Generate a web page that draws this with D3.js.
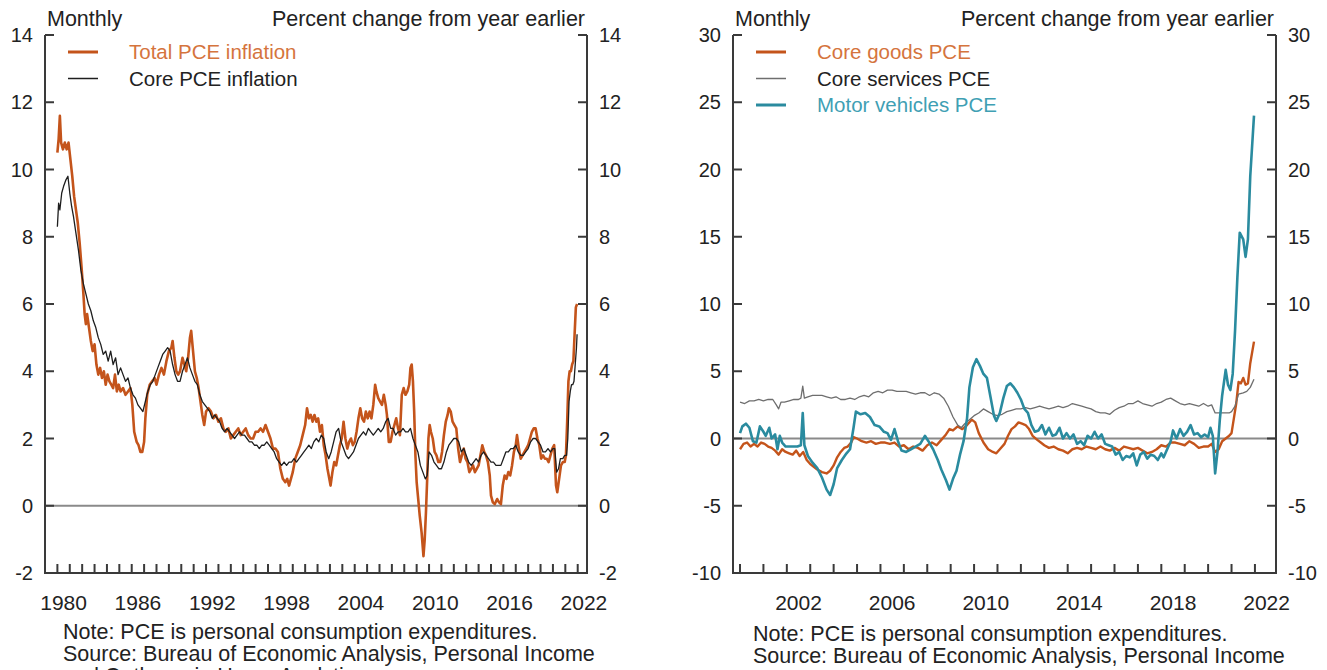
<!DOCTYPE html>
<html>
<head>
<meta charset="utf-8">
<script src="https://cdn.jsdelivr.net/npm/d3@7"></script>
<style>
  body { margin: 0; background: #fff; }
  svg { display: block; font-family: "Liberation Sans", Arial, sans-serif; }
</style>
</head>
<body>
<svg id="chart" width="1327" height="670"></svg>
<script>
// ---- data (year fraction, percent change from year earlier) ----
const totalPce = [[1980.0,10.5],[1980.1,10.9],[1980.2,11.6],[1980.3,10.8],[1980.45,10.6],[1980.6,10.8],[1980.75,10.6],[1980.9,10.8],[1981.05,10.3],[1981.2,9.8],[1981.35,9.2],[1981.5,8.8],[1981.65,8.4],[1981.8,7.8],[1981.95,7.1],[1982.1,6.3],[1982.2,5.7],[1982.3,5.4],[1982.4,5.7],[1982.55,5.3],[1982.7,4.9],[1982.85,4.6],[1983.0,4.8],[1983.15,4.2],[1983.3,3.9],[1983.45,4.1],[1983.6,3.8],[1983.75,4.0],[1983.9,3.6],[1984.05,3.9],[1984.2,3.7],[1984.35,3.6],[1984.5,3.5],[1984.65,3.9],[1984.8,3.4],[1984.95,3.6],[1985.1,3.4],[1985.3,3.5],[1985.5,3.3],[1985.7,3.4],[1985.9,3.5],[1986.05,3.0],[1986.2,2.2],[1986.4,1.9],[1986.55,1.8],[1986.7,1.6],[1986.85,1.6],[1987.0,1.9],[1987.1,2.6],[1987.25,3.3],[1987.45,3.6],[1987.65,3.7],[1987.85,3.8],[1988.0,3.6],[1988.2,3.9],[1988.4,4.1],[1988.6,3.9],[1988.8,4.3],[1989.0,4.6],[1989.2,4.7],[1989.3,4.9],[1989.45,4.4],[1989.6,4.0],[1989.75,3.9],[1989.9,4.0],[1990.1,4.4],[1990.25,4.2],[1990.4,4.0],[1990.55,4.4],[1990.7,5.0],[1990.8,5.2],[1990.95,4.6],[1991.1,4.0],[1991.25,3.8],[1991.4,3.5],[1991.55,3.1],[1991.7,2.7],[1991.85,2.4],[1992.0,2.8],[1992.2,2.9],[1992.4,2.8],[1992.6,2.6],[1992.8,2.7],[1993.0,2.5],[1993.2,2.6],[1993.4,2.3],[1993.6,2.2],[1993.8,2.3],[1994.0,2.0],[1994.2,2.1],[1994.4,2.2],[1994.6,2.3],[1994.8,2.1],[1995.0,2.2],[1995.2,2.3],[1995.4,2.1],[1995.6,2.0],[1995.8,2.0],[1996.0,2.2],[1996.2,2.2],[1996.4,2.3],[1996.6,2.2],[1996.8,2.4],[1997.0,2.2],[1997.2,2.0],[1997.4,1.7],[1997.6,1.7],[1997.8,1.6],[1998.0,1.1],[1998.2,0.8],[1998.4,0.7],[1998.55,0.8],[1998.7,0.6],[1998.85,0.8],[1999.0,1.0],[1999.2,1.4],[1999.4,1.6],[1999.6,1.8],[1999.8,2.1],[2000.0,2.4],[2000.15,2.9],[2000.3,2.6],[2000.45,2.7],[2000.6,2.5],[2000.75,2.7],[2000.9,2.5],[2001.05,2.6],[2001.2,2.2],[2001.35,2.4],[2001.5,1.8],[2001.65,1.5],[2001.8,1.1],[2001.95,0.8],[2002.05,0.6],[2002.2,1.0],[2002.35,1.3],[2002.5,1.2],[2002.65,1.5],[2002.8,1.8],[2002.95,2.0],[2003.1,2.5],[2003.25,2.0],[2003.4,1.7],[2003.55,1.9],[2003.7,2.0],[2003.85,1.8],[2004.0,1.9],[2004.15,2.2],[2004.3,2.6],[2004.45,2.9],[2004.6,2.6],[2004.75,2.5],[2004.9,2.8],[2005.05,2.6],[2005.2,2.8],[2005.35,2.6],[2005.5,3.0],[2005.65,3.6],[2005.75,3.4],[2005.9,3.2],[2006.05,3.1],[2006.2,3.0],[2006.35,3.3],[2006.5,3.0],[2006.6,2.7],[2006.75,1.9],[2006.9,1.9],[2007.05,2.2],[2007.2,2.4],[2007.35,2.6],[2007.5,2.3],[2007.65,2.1],[2007.8,3.3],[2007.95,3.5],[2008.1,3.3],[2008.25,3.4],[2008.4,3.6],[2008.5,4.1],[2008.6,4.2],[2008.7,3.7],[2008.8,2.8],[2008.9,1.5],[2009.0,0.7],[2009.1,0.3],[2009.25,-0.3],[2009.4,-0.8],[2009.55,-1.5],[2009.65,-1.0],[2009.75,-0.2],[2009.85,0.8],[2009.95,2.0],[2010.05,2.4],[2010.15,2.2],[2010.3,2.0],[2010.45,1.6],[2010.6,1.5],[2010.75,1.3],[2010.9,1.3],[2011.05,1.6],[2011.2,2.1],[2011.35,2.5],[2011.5,2.7],[2011.6,2.9],[2011.75,2.8],[2011.9,2.5],[2012.05,2.4],[2012.2,2.3],[2012.35,1.7],[2012.5,1.3],[2012.65,1.5],[2012.8,1.7],[2012.95,1.4],[2013.1,1.3],[2013.25,1.0],[2013.4,1.1],[2013.55,1.2],[2013.7,1.0],[2013.85,1.1],[2014.0,1.2],[2014.15,1.5],[2014.3,1.8],[2014.45,1.6],[2014.6,1.5],[2014.75,1.3],[2014.9,0.9],[2015.0,0.3],[2015.15,0.1],[2015.3,0.05],[2015.5,0.2],[2015.65,0.1],[2015.8,0.05],[2015.95,0.6],[2016.1,0.9],[2016.25,0.8],[2016.4,1.0],[2016.55,0.9],[2016.7,1.2],[2016.85,1.6],[2017.0,1.8],[2017.1,2.1],[2017.25,1.7],[2017.4,1.4],[2017.55,1.5],[2017.7,1.6],[2017.85,1.7],[2018.0,1.8],[2018.15,2.0],[2018.3,2.2],[2018.45,2.3],[2018.6,2.3],[2018.75,2.0],[2018.9,1.8],[2019.05,1.4],[2019.2,1.5],[2019.35,1.4],[2019.5,1.4],[2019.65,1.3],[2019.8,1.5],[2019.95,1.7],[2020.1,1.8],[2020.25,0.6],[2020.35,0.4],[2020.5,0.8],[2020.65,1.2],[2020.8,1.3],[2020.95,1.3],[2021.05,1.5],[2021.15,2.5],[2021.25,3.7],[2021.35,4.0],[2021.45,4.0],[2021.55,4.2],[2021.65,4.3],[2021.75,5.1],[2021.85,5.9],[2021.95,6.0]]

const corePce = [[1980.0,8.3],[1980.1,9.0],[1980.2,8.8],[1980.35,9.3],[1980.5,9.5],[1980.7,9.7],[1980.85,9.8],[1981.0,9.3],[1981.15,8.9],[1981.3,8.6],[1981.5,8.1],[1981.7,7.6],[1981.9,7.0],[1982.1,6.6],[1982.3,6.3],[1982.5,6.0],[1982.7,5.8],[1982.9,5.5],[1983.1,5.3],[1983.3,5.0],[1983.5,4.8],[1983.7,4.5],[1983.9,4.6],[1984.1,4.3],[1984.3,4.6],[1984.5,4.2],[1984.7,4.4],[1984.9,3.9],[1985.1,4.1],[1985.3,3.9],[1985.5,3.7],[1985.7,3.8],[1985.9,3.5],[1986.1,3.3],[1986.3,3.2],[1986.5,3.0],[1986.7,2.9],[1986.9,2.8],[1987.1,3.1],[1987.3,3.4],[1987.5,3.6],[1987.7,3.7],[1987.9,3.9],[1988.1,4.1],[1988.3,4.3],[1988.5,4.5],[1988.7,4.6],[1988.9,4.7],[1989.1,4.6],[1989.3,4.2],[1989.5,3.9],[1989.7,3.7],[1989.9,3.7],[1990.1,4.0],[1990.3,4.2],[1990.5,4.4],[1990.7,4.1],[1990.9,3.9],[1991.1,3.7],[1991.3,3.6],[1991.5,3.3],[1991.7,3.1],[1991.9,3.0],[1992.1,2.9],[1992.3,2.8],[1992.5,2.6],[1992.7,2.7],[1992.9,2.6],[1993.1,2.5],[1993.3,2.3],[1993.5,2.2],[1993.7,2.3],[1993.9,2.2],[1994.1,2.1],[1994.3,2.0],[1994.5,2.1],[1994.7,2.2],[1994.9,2.1],[1995.1,2.1],[1995.3,2.0],[1995.5,1.9],[1995.7,1.9],[1995.9,1.8],[1996.1,1.8],[1996.3,1.7],[1996.5,1.8],[1996.7,1.8],[1996.9,1.9],[1997.1,1.8],[1997.3,1.7],[1997.5,1.6],[1997.7,1.4],[1997.9,1.3],[1998.1,1.2],[1998.3,1.3],[1998.5,1.2],[1998.7,1.3],[1998.9,1.3],[1999.1,1.4],[1999.3,1.3],[1999.5,1.4],[1999.7,1.5],[1999.9,1.6],[2000.1,1.7],[2000.3,1.8],[2000.5,1.7],[2000.7,1.9],[2000.9,2.0],[2001.1,1.9],[2001.3,2.1],[2001.5,2.0],[2001.7,1.6],[2001.9,1.4],[2002.1,1.6],[2002.3,1.9],[2002.5,2.2],[2002.7,2.3],[2002.9,1.9],[2003.1,1.7],[2003.3,1.5],[2003.5,1.4],[2003.7,1.5],[2003.9,1.6],[2004.1,1.8],[2004.3,2.0],[2004.5,2.1],[2004.7,2.2],[2004.9,2.1],[2005.1,2.3],[2005.3,2.2],[2005.5,2.1],[2005.7,2.2],[2005.9,2.3],[2006.1,2.2],[2006.3,2.3],[2006.5,2.5],[2006.7,2.6],[2006.9,2.3],[2007.1,2.3],[2007.3,2.1],[2007.5,2.2],[2007.7,2.2],[2007.9,2.3],[2008.1,2.2],[2008.3,2.2],[2008.5,2.3],[2008.7,2.0],[2008.9,1.8],[2009.1,1.6],[2009.3,1.2],[2009.5,1.0],[2009.7,0.8],[2009.85,0.9],[2010.0,1.6],[2010.2,1.5],[2010.4,1.3],[2010.6,1.2],[2010.8,1.1],[2011.0,1.1],[2011.2,1.3],[2011.4,1.6],[2011.6,1.8],[2011.8,1.9],[2012.0,2.0],[2012.2,2.0],[2012.4,1.9],[2012.6,1.6],[2012.8,1.7],[2013.0,1.5],[2013.2,1.3],[2013.4,1.2],[2013.6,1.3],[2013.8,1.4],[2014.0,1.3],[2014.2,1.5],[2014.4,1.6],[2014.6,1.5],[2014.8,1.4],[2015.0,1.3],[2015.2,1.3],[2015.4,1.2],[2015.6,1.2],[2015.8,1.2],[2016.0,1.4],[2016.2,1.6],[2016.4,1.6],[2016.6,1.7],[2016.8,1.7],[2017.0,1.8],[2017.2,1.6],[2017.4,1.5],[2017.6,1.5],[2017.8,1.6],[2018.0,1.7],[2018.2,1.9],[2018.4,2.0],[2018.6,2.0],[2018.8,1.9],[2019.0,1.8],[2019.2,1.6],[2019.4,1.6],[2019.6,1.7],[2019.8,1.6],[2020.0,1.7],[2020.15,1.7],[2020.3,1.0],[2020.45,1.1],[2020.6,1.4],[2020.8,1.4],[2020.95,1.5],[2021.1,1.5],[2021.2,2.0],[2021.3,3.1],[2021.4,3.4],[2021.5,3.6],[2021.6,3.6],[2021.7,3.7],[2021.8,4.2],[2021.9,4.7],[2021.95,5.1]]

const coreGoods = [[2000.0,-0.8],[2000.15,-0.4],[2000.3,-0.3],[2000.45,-0.6],[2000.6,-0.4],[2000.75,-0.6],[2000.9,-0.3],[2001.05,-0.4],[2001.2,-0.6],[2001.35,-0.7],[2001.5,-0.9],[2001.65,-1.2],[2001.8,-0.8],[2001.95,-1.0],[2002.1,-1.1],[2002.25,-1.2],[2002.4,-0.9],[2002.55,-1.3],[2002.7,-1.0],[2002.85,-1.6],[2003.0,-1.9],[2003.15,-2.1],[2003.3,-2.3],[2003.5,-2.5],[2003.7,-2.6],[2003.85,-2.4],[2004.0,-2.0],[2004.15,-1.4],[2004.3,-1.0],[2004.45,-0.7],[2004.6,-0.6],[2004.75,-0.3],[2004.85,0.1],[2005.0,0.0],[2005.2,-0.2],[2005.4,-0.3],[2005.6,-0.2],[2005.8,-0.4],[2006.0,-0.3],[2006.2,-0.3],[2006.4,-0.4],[2006.6,-0.3],[2006.8,-0.6],[2007.0,-0.5],[2007.2,-0.8],[2007.4,-0.6],[2007.6,-0.7],[2007.8,-0.9],[2008.0,-0.5],[2008.2,-0.3],[2008.4,-0.5],[2008.6,-0.1],[2008.8,0.3],[2008.95,0.7],[2009.1,0.6],[2009.3,0.9],[2009.5,0.7],[2009.7,1.0],[2009.9,1.4],[2010.05,1.2],[2010.2,0.4],[2010.4,-0.3],[2010.6,-0.8],[2010.8,-1.0],[2010.95,-1.1],[2011.1,-0.8],[2011.3,-0.4],[2011.45,0.2],[2011.6,0.7],[2011.75,0.9],[2011.9,1.2],[2012.05,1.1],[2012.2,1.0],[2012.35,0.7],[2012.5,0.2],[2012.7,-0.1],[2012.85,-0.3],[2013.0,-0.5],[2013.2,-0.7],[2013.4,-0.6],[2013.6,-0.8],[2013.8,-0.9],[2014.0,-1.1],[2014.2,-0.8],[2014.4,-0.7],[2014.6,-0.8],[2014.8,-0.6],[2015.0,-0.7],[2015.2,-0.8],[2015.4,-0.6],[2015.6,-0.8],[2015.8,-0.9],[2016.0,-0.7],[2016.2,-0.9],[2016.4,-0.6],[2016.6,-0.7],[2016.8,-0.8],[2017.0,-0.7],[2017.2,-0.9],[2017.4,-1.1],[2017.6,-1.0],[2017.8,-0.8],[2018.0,-0.5],[2018.2,-0.6],[2018.4,-0.3],[2018.6,-0.3],[2018.8,-0.4],[2019.0,-0.5],[2019.2,-0.2],[2019.4,-0.4],[2019.6,-0.7],[2019.8,-0.6],[2020.0,-0.6],[2020.15,-0.4],[2020.3,-1.0],[2020.45,-0.8],[2020.6,-0.2],[2020.75,0.0],[2020.9,0.2],[2021.0,0.4],[2021.1,1.5],[2021.2,2.6],[2021.3,4.2],[2021.4,4.1],[2021.5,4.5],[2021.6,4.0],[2021.7,4.1],[2021.8,5.6],[2021.96,7.2]]

const coreServices = [[2000.0,2.7],[2000.2,2.6],[2000.4,2.8],[2000.6,2.8],[2000.8,2.9],[2001.0,2.8],[2001.2,2.9],[2001.4,2.9],[2001.55,2.5],[2001.65,2.2],[2001.75,2.7],[2001.9,2.7],[2002.1,2.8],[2002.3,2.9],[2002.5,2.9],[2002.6,3.0],[2002.68,3.9],[2002.75,3.0],[2002.9,3.1],[2003.1,3.2],[2003.3,3.2],[2003.5,3.2],[2003.7,3.1],[2003.9,3.0],[2004.1,3.1],[2004.3,2.9],[2004.5,2.9],[2004.7,3.0],[2004.9,2.9],[2005.1,3.1],[2005.3,3.2],[2005.5,3.1],[2005.7,3.4],[2005.9,3.5],[2006.1,3.4],[2006.3,3.6],[2006.5,3.6],[2006.7,3.5],[2006.9,3.5],[2007.1,3.5],[2007.3,3.4],[2007.5,3.3],[2007.7,3.4],[2007.9,3.4],[2008.1,3.2],[2008.3,3.4],[2008.5,3.3],[2008.7,3.0],[2008.9,2.4],[2009.1,1.6],[2009.3,1.0],[2009.45,0.8],[2009.6,1.1],[2009.8,1.4],[2010.0,1.7],[2010.2,1.9],[2010.4,2.2],[2010.6,2.0],[2010.8,1.8],[2011.0,1.7],[2011.2,1.8],[2011.4,2.0],[2011.6,2.1],[2011.8,2.2],[2012.0,2.2],[2012.2,2.3],[2012.4,2.2],[2012.6,2.3],[2012.8,2.4],[2013.0,2.3],[2013.2,2.2],[2013.4,2.3],[2013.6,2.4],[2013.8,2.3],[2014.0,2.4],[2014.2,2.6],[2014.4,2.5],[2014.6,2.4],[2014.8,2.3],[2015.0,2.2],[2015.2,2.0],[2015.4,1.9],[2015.6,1.9],[2015.8,1.8],[2016.0,2.1],[2016.2,2.3],[2016.4,2.4],[2016.6,2.6],[2016.8,2.6],[2017.0,2.8],[2017.2,2.6],[2017.4,2.5],[2017.6,2.4],[2017.8,2.6],[2018.0,2.7],[2018.2,2.9],[2018.4,3.0],[2018.6,2.8],[2018.8,2.6],[2019.0,2.5],[2019.2,2.6],[2019.4,2.5],[2019.6,2.4],[2019.8,2.6],[2020.0,2.4],[2020.15,2.5],[2020.3,1.9],[2020.5,1.9],[2020.7,1.9],[2020.9,1.9],[2021.0,2.0],[2021.15,2.4],[2021.3,3.3],[2021.5,3.4],[2021.65,3.5],[2021.8,3.8],[2021.96,4.4]]

const motorVehicles = [[2000.0,0.4],[2000.1,0.9],[2000.25,1.1],[2000.4,0.8],[2000.55,-0.2],[2000.7,-0.3],[2000.85,0.9],[2001.0,0.5],[2001.1,0.2],[2001.25,0.8],[2001.35,0.0],[2001.5,0.3],[2001.6,-0.8],[2001.7,0.2],[2001.8,-0.3],[2001.95,-0.6],[2002.2,-0.6],[2002.45,-0.6],[2002.6,-0.5],[2002.68,1.9],[2002.75,-0.5],[2002.9,-1.3],[2003.1,-1.8],[2003.3,-2.2],[2003.5,-2.9],[2003.7,-3.8],[2003.85,-4.2],[2004.0,-3.4],[2004.15,-2.2],[2004.35,-1.6],[2004.55,-1.1],[2004.7,-0.8],[2004.85,0.8],[2004.95,2.0],[2005.15,1.8],[2005.35,1.9],[2005.55,1.6],[2005.75,1.0],[2005.95,0.9],[2006.15,0.5],[2006.3,0.4],[2006.45,-0.1],[2006.6,0.7],[2006.75,-0.2],[2006.9,-0.9],[2007.1,-1.0],[2007.3,-0.8],[2007.5,-0.6],[2007.7,-0.4],[2007.9,0.2],[2008.05,-0.2],[2008.25,-0.8],[2008.45,-1.6],[2008.6,-2.3],[2008.8,-3.1],[2008.95,-3.8],[2009.1,-3.0],[2009.25,-2.4],[2009.4,-1.2],[2009.55,-0.2],[2009.7,1.5],[2009.8,3.8],[2009.95,5.3],[2010.1,5.9],[2010.25,5.4],[2010.4,4.8],[2010.55,4.5],[2010.7,3.1],[2010.85,1.7],[2010.95,1.3],[2011.1,1.9],[2011.25,3.0],[2011.4,3.9],[2011.55,4.1],[2011.7,3.8],[2011.85,3.4],[2012.0,2.9],[2012.15,2.2],[2012.3,1.9],[2012.45,1.0],[2012.6,0.5],[2012.75,0.6],[2012.9,1.0],[2013.05,0.3],[2013.2,0.8],[2013.35,0.2],[2013.5,0.3],[2013.65,0.8],[2013.8,0.0],[2013.95,0.4],[2014.1,0.0],[2014.25,0.3],[2014.4,-0.4],[2014.55,-0.2],[2014.7,-0.5],[2014.85,0.2],[2015.0,0.0],[2015.15,0.5],[2015.3,0.0],[2015.45,0.3],[2015.6,-0.4],[2015.75,-0.5],[2015.9,-0.6],[2016.05,-1.2],[2016.2,-1.0],[2016.35,-1.6],[2016.5,-1.3],[2016.65,-1.4],[2016.8,-1.1],[2016.95,-2.0],[2017.1,-1.2],[2017.25,-1.0],[2017.4,-1.5],[2017.55,-1.2],[2017.7,-1.3],[2017.85,-1.6],[2018.0,-1.1],[2018.1,-1.4],[2018.25,-0.8],[2018.4,-0.2],[2018.5,0.6],[2018.65,0.0],[2018.8,0.7],[2018.95,0.2],[2019.1,0.5],[2019.25,1.0],[2019.4,0.3],[2019.55,0.4],[2019.7,0.1],[2019.85,0.3],[2020.0,0.1],[2020.1,0.8],[2020.2,0.2],[2020.3,-2.6],[2020.4,-1.0],[2020.5,1.4],[2020.6,3.2],[2020.75,5.1],[2020.85,4.0],[2020.95,3.6],[2021.05,4.8],[2021.15,8.0],[2021.25,12.0],[2021.35,15.3],[2021.5,14.8],[2021.6,13.5],[2021.7,14.8],[2021.8,19.5],[2021.96,24.0]]

const leftYTicks = [-2, 0, 2, 4, 6, 8, 10, 12, 14]
const rightYTicks = [-10, -5, 0, 5, 10, 15, 20, 25, 30]
const leftYearLabels = [1980, 1986, 1992, 1998, 2004, 2010, 2016, 2022]
const rightYearLabels = [2002, 2006, 2010, 2014, 2018, 2022]
const noteLines = ['Note: PCE is personal consumption expenditures.',
  'Source: Bureau of Economic Analysis, Personal Income',
  'and Outlays via Haver Analytics.']

const ORANGE = '#c4541b'
const TEAL = '#2a8b9f'
const svg = d3.select('#chart')

// one panel: frame, ticks, labels, zero line, series and legend
function drawPanel(cfg) {
  const x = d3.scaleLinear().domain(cfg.xDomain).range([cfg.left, cfg.right])
  const y = d3.scaleLinear().domain(cfg.yDomain).range([cfg.bottom, cfg.top])
  const g = svg.append('g')

  // zero line
  g.append('line')
    .attr('x1', cfg.left).attr('x2', cfg.right)
    .attr('y1', y(0)).attr('y2', y(0))
    .attr('stroke', '#8a8a8a').attr('stroke-width', 2)

  // series
  const line = d3.line().x(d => x(d[0])).y(d => y(d[1]))
  cfg.series.forEach(s => {
    g.append('path').datum(s.data)
      .attr('d', line)
      .attr('fill', 'none')
      .attr('stroke', s.color)
      .attr('stroke-width', s.width)
      .attr('stroke-linejoin', 'round')
  })

  // frame: left, right, bottom
  const frame = g.append('g').attr('stroke', '#3a3a3a').attr('stroke-width', 2).attr('fill', 'none')
  frame.append('path')
    .attr('d', `M${cfg.left},${cfg.top}V${cfg.bottom}H${cfg.right}V${cfg.top}`)

  // y ticks both sides, pointing inward
  cfg.yTicks.forEach(v => {
    frame.append('line').attr('x1', cfg.left).attr('x2', cfg.left + 9).attr('y1', y(v)).attr('y2', y(v))
    frame.append('line').attr('x1', cfg.right).attr('x2', cfg.right - 9).attr('y1', y(v)).attr('y2', y(v))
  })
  // yearly x ticks
  d3.range(Math.ceil(cfg.xDomain[0]), Math.floor(cfg.xDomain[1]) + 1).forEach(yr => {
    frame.append('line').attr('x1', x(yr)).attr('x2', x(yr)).attr('y1', cfg.bottom).attr('y2', cfg.bottom - 9)
  })

  const txt = g.append('g').attr('font-size', 21.5).attr('fill', '#222')
  cfg.yTicks.forEach(v => {
    txt.append('text').attr('x', cfg.left - 12).attr('y', y(v)).attr('dy', '0.35em')
      .attr('font-size', 20).attr('text-anchor', 'end').text(v)
    txt.append('text').attr('x', cfg.right + 12).attr('y', y(v)).attr('dy', '0.35em')
      .attr('font-size', 20).attr('text-anchor', 'start').text(v)
  })
  cfg.yearLabels.forEach(yr => {
    txt.append('text').attr('x', x(yr + 0.5)).attr('y', cfg.bottom + 37)
      .attr('font-size', 21).attr('text-anchor', 'middle').text(yr)
  })
  txt.append('text').attr('x', cfg.left + 2).attr('y', cfg.top - 9).text('Monthly')
  txt.append('text').attr('x', cfg.right - 2).attr('y', cfg.top - 9)
    .attr('text-anchor', 'end').text('Percent change from year earlier')

  // legend
  cfg.series.forEach((s, i) => {
    const ly = cfg.top + 17 + i * 26.5
    g.append('line').attr('x1', cfg.left + 23).attr('x2', cfg.left + 53)
      .attr('y1', ly).attr('y2', ly)
      .attr('stroke', s.color).attr('stroke-width', s.legendWidth)
    txt.append('text').attr('x', cfg.left + 84).attr('y', ly).attr('dy', '0.35em')
      .attr('font-size', 20.5).attr('fill', s.textColor).text(s.name)
  })

  // notes
  cfg.notes.forEach((t, i) => {
    txt.append('text').attr('x', cfg.noteX).attr('y', cfg.noteY + i * 22).text(t)
  })
}

drawPanel({
  left: 45, right: 587, top: 35, bottom: 573,
  xDomain: [1979, 2022.75], yDomain: [-2, 14],
  yTicks: leftYTicks, yearLabels: leftYearLabels,
  series: [
    { name: 'Total PCE inflation', data: totalPce, color: ORANGE, width: 2.6, legendWidth: 3, textColor: '#d5743d' },
    { name: 'Core PCE inflation', data: corePce, color: '#1e1e1e', width: 1.3, legendWidth: 1.5, textColor: '#222' }
  ],
  notes: noteLines, noteX: 63, noteY: 639
})

drawPanel({
  left: 733, right: 1276, top: 35, bottom: 573,
  xDomain: [1999.7, 2022.9], yDomain: [-10, 30],
  yTicks: rightYTicks, yearLabels: rightYearLabels,
  series: [
    { name: 'Core goods PCE', data: coreGoods, color: ORANGE, width: 2.4, legendWidth: 3, textColor: '#d5743d' },
    { name: 'Core services PCE', data: coreServices, color: '#6e6e6e', width: 1.3, legendWidth: 1.5, textColor: '#222' },
    { name: 'Motor vehicles PCE', data: motorVehicles, color: TEAL, width: 2.6, legendWidth: 3, textColor: '#3f9fb4' }
  ],
  notes: noteLines.slice(0, 2), noteX: 753, noteY: 641
})
</script>
</body>
</html>
